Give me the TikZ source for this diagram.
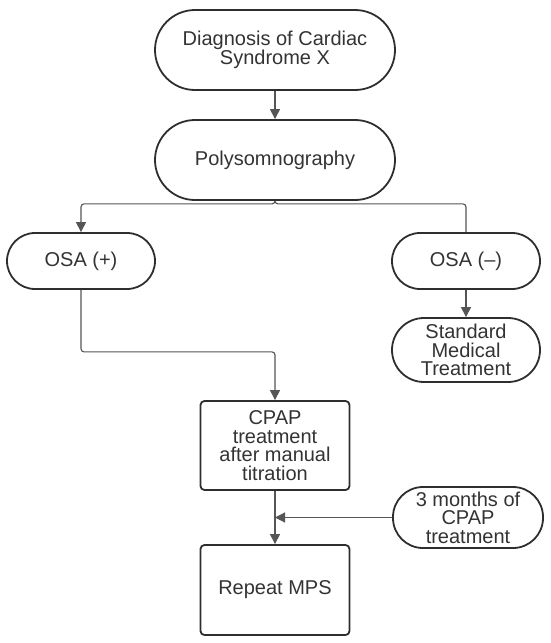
\documentclass[tikz,border=0pt]{standalone}
\usepackage{fontspec}
\setmainfont{Liberation Sans}
\usetikzlibrary{arrows.meta}
\definecolor{txt}{HTML}{333333}
\definecolor{edge}{HTML}{2E2E2E}
\definecolor{conn}{HTML}{555555}
\begin{document}
\begin{tikzpicture}[x=1pt,y=-1pt,
  box/.style={draw=edge,line width=1.8pt,text=txt,align=center,inner sep=0pt,
    font=\fontsize{20}{18.5}\selectfont},
  stadium/.style={box,rounded corners=#1},
  sqbox/.style={box,rounded corners=4pt},
  link/.style={draw=conn,line width=1.1pt,rounded corners=3pt},
  arr/.style={link,-{Triangle[length=10pt,width=10pt]}}]
\useasboundingbox (0,0) rectangle (550,643);
\node[stadium=40pt,minimum width=240pt,minimum height=80pt] (diag) at (275,50) {Diagnosis of Cardiac\\Syndrome X};
\node[stadium=40pt,minimum width=240pt,minimum height=80pt] (poly) at (275,160) {Polysomnography};
\node[stadium=28pt,minimum width=148pt,minimum height=56pt] (osap) at (81,261) {OSA (+)};
\node[stadium=28pt,minimum width=148pt,minimum height=56pt] (osam) at (466,261) {OSA (--)};
\node[stadium=32pt,minimum width=148pt,minimum height=64pt] (smt) at (466,350) {Standard\\Medical\\Treatment};
\node[sqbox,minimum width=149pt,minimum height=89pt] (cpap) at (275,445.5) {CPAP\\treatment\\after manual\\titration};
\node[sqbox,minimum width=149pt,minimum height=90pt] (mps) at (275,590) {Repeat MPS};
\node[stadium=30pt,minimum width=150pt,minimum height=61pt] (three) at (468,517.5) {3 months of\\CPAP\\treatment};
\coordinate (j) at (275,517.5);
\draw[arr] (diag.south) -- (poly.north);
\draw[arr] (poly.south) -- ++(0,3) -| (osap.north);
\draw[link] (poly.south) -- ++(0,3) -| (osam.north);
\draw[arr] (osam.south) -- (smt.north);
\draw[arr] (osap.south) -- ++(0,62) -| (cpap.north);
\draw[arr] (cpap.south) -- (mps.north);
\draw[arr] (three.west) -- (j);
\end{tikzpicture}
\end{document}
